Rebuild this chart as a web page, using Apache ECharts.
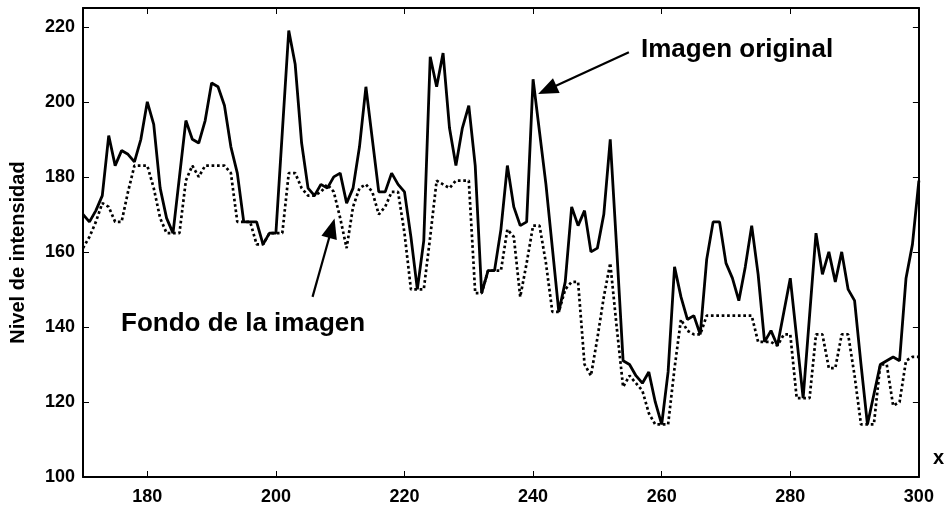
<!DOCTYPE html>
<html>
<head>
<meta charset="utf-8">
<script src="https://cdn.jsdelivr.net/npm/echarts@6/dist/echarts.min.js"></script>
<style>
  html, body { margin: 0; padding: 0; background: #fff; }
  #chart { width: 947px; height: 507px; }
</style>
</head>
<body>
<div id="chart"></div>
<script>
// x positions (pixel index along the profile)
const xs = [
  170, 171, 172, 173, 174, 175, 176, 177, 178, 179,
  180, 181, 182, 183, 184, 185, 186, 187, 188, 189,
  190, 191, 192, 193, 194, 195, 196, 197, 198, 199,
  200, 201, 202, 203, 204, 205, 206, 207, 208, 209,
  210, 211, 212, 213, 214, 215, 216, 217, 218, 219,
  220, 221, 222, 223, 224, 225, 226, 227, 228, 229,
  230, 231, 232, 233, 234, 235, 236, 237, 238, 239,
  240, 241, 242, 243, 244, 245, 246, 247, 248, 249,
  250, 251, 252, 253, 254, 255, 256, 257, 258, 259,
  260, 261, 262, 263, 264, 265, 266, 267, 268, 269,
  270, 271, 272, 273, 274, 275, 276, 277, 278, 279,
  280, 281, 282, 283, 284, 285, 286, 287, 288, 289,
  290, 291, 292, 293, 294, 295, 296, 297, 298, 299,
  300
]

// Imagen original (solid)
const original = [
  170, 168, 171, 175, 191, 183, 187, 186, 184, 190,
  200, 194, 177, 169, 165, 180, 195, 190, 189, 195,
  205, 204, 199, 188, 181, 168, 168, 168, 162, 165,
  165, 192, 219, 210, 189, 177, 175, 178, 177, 180,
  181, 173, 177, 188, 204, 190, 176, 176, 181, 178,
  176, 164, 150, 163, 212, 204, 213, 193, 183, 193,
  199, 183, 149, 155, 155, 166, 183, 172, 167, 168,
  206, 192, 178, 161, 144, 152, 172, 167, 171, 160,
  161, 170, 190, 161, 131, 130, 127, 125, 128, 120,
  114, 128, 156, 148, 142, 143, 138, 158, 168, 168,
  157, 153, 147, 156, 167, 154, 136, 139, 135, 144,
  153, 137, 121, 143, 165, 154, 160, 152, 160, 150,
  147, 130, 114, 122, 130, 131, 132, 131, 153, 162,
  179
]

// Fondo de la imagen (dotted)
const fondo = [
  161, 164, 168, 173, 172, 168, 168, 176, 183, 183,
  183, 177, 169, 165, 165, 165, 179, 183, 180, 183,
  183, 183, 183, 181, 168, 168, 168, 162, 162, 165,
  165, 165, 181, 181, 177, 175, 175, 176, 178, 176,
  169, 161, 172, 177, 178, 176, 170, 172, 176, 176,
  165, 150, 150, 150, 164, 179, 178, 177, 179, 179,
  179, 149, 149, 155, 155, 155, 166, 164, 148, 157,
  167, 167, 157, 144, 144, 150, 152, 152, 130, 127,
  137, 148, 157, 140, 124, 127, 125, 123, 117, 114,
  114, 114, 129, 142, 139, 138, 138, 143, 143, 143,
  143, 143, 143, 143, 143, 136, 136, 136, 135, 138,
  138, 121, 121, 121, 138, 138, 129, 129, 138, 138,
  127, 114, 114, 114, 130, 130, 119, 120, 131, 132,
  132
]

const xTicks = [180, 200, 220, 240, 260, 280, 300]
const yTicks = [100, 120, 140, 160, 180, 200, 220]

const font = '"Liberation Sans", Arial, Helvetica, sans-serif'

const pairs = (vals) => xs.map((x, i) => [x, vals[i]])

const frameAxis = (extra) => Object.assign({
  type: 'value',
  axisLine: { show: true, onZero: false, lineStyle: { color: '#000', width: 2 } },
  axisTick: { show: true, inside: true, length: 6, lineStyle: { color: '#000', width: 1 } },
  axisLabel: { show: false },
  splitLine: { show: false }
}, extra)

const chart = echarts.init(document.getElementById('chart'), null, { renderer: 'canvas' })

const option = {
  animation: false,
  backgroundColor: '#fff',
  grid: { left: 81, right: 26, top: 8, bottom: 30, containLabel: false },
  xAxis: [
    frameAxis({
      min: 170,
      max: 300,
      position: 'bottom',
      axisTick: { show: true, inside: true, length: 6, customValues: xTicks, lineStyle: { color: '#000', width: 1 } },
      axisLabel: {
        show: true, customValues: xTicks, margin: 11,
        color: '#000', fontSize: 18, fontWeight: 'bold', fontFamily: font
      },
      name: 'x',
      nameLocation: 'end',
      nameGap: 14,
      nameTextStyle: {
        color: '#000', fontSize: 20, fontWeight: 'bold', fontFamily: font,
        align: 'left', verticalAlign: 'bottom', padding: [0, 0, 9, 0]
      }
    }),
    frameAxis({
      min: 170,
      max: 300,
      position: 'top',
      axisTick: { show: true, inside: true, length: 6, customValues: xTicks, lineStyle: { color: '#000', width: 1 } }
    })
  ],
  yAxis: [
    frameAxis({
      min: 100,
      max: 225,
      position: 'left',
      axisTick: { show: true, inside: true, length: 6, customValues: yTicks, lineStyle: { color: '#000', width: 1 } },
      axisLabel: {
        show: true, customValues: yTicks, margin: 8,
        color: '#000', fontSize: 18, fontWeight: 'bold', fontFamily: font
      },
      name: 'Nivel de intensidad',
      nameLocation: 'middle',
      nameRotate: 90,
      nameGap: 55,
      nameTextStyle: { color: '#000', fontSize: 20, fontWeight: 'bold', fontFamily: font, padding: [0, 20, 0, 0] }
    }),
    frameAxis({
      min: 100,
      max: 225,
      position: 'right',
      axisTick: { show: true, inside: true, length: 6, customValues: yTicks, lineStyle: { color: '#000', width: 1 } }
    })
  ],
  series: [
    {
      name: 'Imagen original',
      type: 'line',
      data: pairs(original),
      symbol: 'none',
      lineStyle: { color: '#000', width: 2.8 },
      z: 3,
      markLine: {
        silent: true,
        symbol: ['none', 'triangle'],
        symbolSize: [16, 20],
        label: { show: false },
        lineStyle: { color: '#000', width: 2.2, type: 'solid' },
        data: [
          [{ coord: [254.9, 213.2] }, { coord: [242.2, 203.2] }],
          [{ coord: [205.7, 148.0] }, { coord: [208.7, 166.3] }]
        ]
      }
    },
    {
      name: 'Fondo de la imagen',
      type: 'line',
      data: pairs(fondo),
      symbol: 'none',
      lineStyle: { color: '#000', width: 2.7, type: 'dotted' },
      z: 2
    }
  ],
  graphic: [
    {
      type: 'text', left: 641, top: 37,
      style: { text: 'Imagen original', fill: '#000', font: 'bold 26px ' + font }
    },
    {
      type: 'text', left: 121, top: 311,
      style: { text: 'Fondo de la imagen', fill: '#000', font: 'bold 26px ' + font }
    }
  ]
}

chart.setOption(option)
</script>
</body>
</html>
